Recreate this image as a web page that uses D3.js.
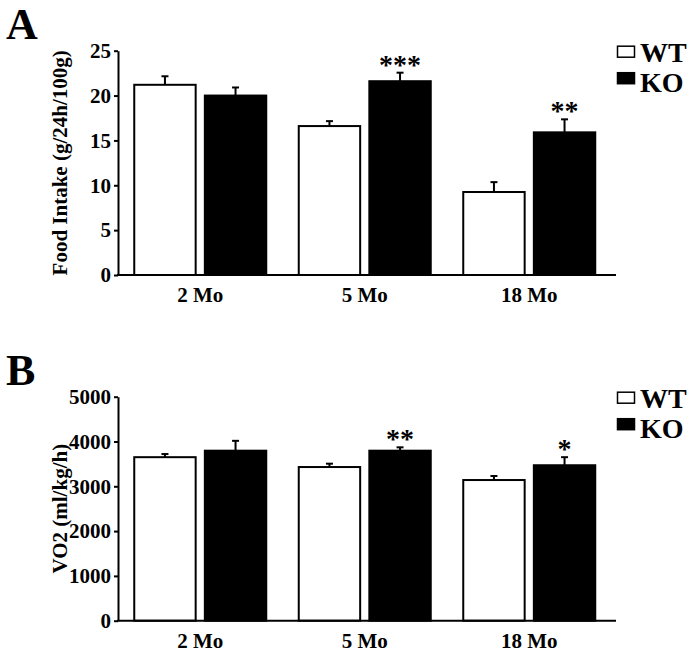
<!DOCTYPE html>
<html>
<head>
<meta charset="utf-8">
<script src="https://cdn.jsdelivr.net/npm/d3@7"></script>
<style>
  html, body { margin: 0; padding: 0; background: #fff; }
  svg { display: block; }
  text { font-family: "Liberation Serif", "Times New Roman", serif; font-weight: bold; fill: #000; }
</style>
</head>
<body>
<svg id="chart" width="696" height="653"></svg>
<script>
// ---- data ----
const categories = ["2 Mo", "5 Mo", "18 Mo"];
const seriesNames = ["WT", "KO"];

const foodWT = [21.2, 16.6, 9.25];
const foodWTErr = [0.95, 0.55, 1.1];
const foodKO = [20.0, 21.6, 15.9];
const foodKOErr = [0.9, 0.95, 1.45];
const foodStars = ["", "***", "**"];
const foodTicks = [0, 5, 10, 15, 20, 25];

const vo2WT = [3650, 3430, 3140];
const vo2WTErr = [70, 75, 90];
const vo2KO = [3795, 3795, 3470];
const vo2KOErr = [220, 75, 180];
const vo2Stars = ["", "**", "*"];
const vo2Ticks = [0, 1000, 2000, 3000, 4000, 5000];

const panels = [
  { letter: "A", title: "Food Intake (g/24h/100g)", wt: foodWT, wtErr: foodWTErr, ko: foodKO, koErr: foodKOErr,
    stars: foodStars, ticks: foodTicks, max: 25, top: 50.7, bottom: 275, letterY: 39 },
  { letter: "B", title: "VO2 (ml/kg/h)", wt: vo2WT, wtErr: vo2WTErr, ko: vo2KO, koErr: vo2KOErr,
    stars: vo2Stars, ticks: vo2Ticks, max: 5000, top: 396.7, bottom: 620.7, letterY: 385 }
];

const svg = d3.select("#chart");
const axisX = 118, axisEnd = 616;

const x0 = d3.scaleBand().domain(categories).range([118, 611.5]).paddingInner(0).paddingOuter(0);
const x1 = d3.scaleBand().domain(seriesNames).range([0, 132]).paddingInner(0.13).paddingOuter(0);
const groupOffset = (x0.bandwidth() - 132) / 2;
const fills = { WT: "#fff", KO: "#000" };

panels.forEach(p => {
  const g = svg.append("g");
  const y = d3.scaleLinear().domain([0, p.max]).range([p.bottom, p.top]);

  // panel letter
  g.append("text").attr("x", 6).attr("y", p.letterY).attr("font-size", 44).text(p.letter);

  const rows = categories.map((c, i) => [
    { cat: c, s: "WT", v: p.wt[i], e: p.wtErr[i], star: "" },
    { cat: c, s: "KO", v: p.ko[i], e: p.koErr[i], star: p.stars[i] }
  ]).flat();

  const bx = d => x0(d.cat) + groupOffset + x1(d.s);

  // error bars (upper only)
  const eb = g.append("g").attr("stroke", "#000").attr("stroke-width", 2);
  rows.forEach(d => {
    const cx = bx(d) + x1.bandwidth() / 2;
    eb.append("line").attr("x1", cx).attr("x2", cx).attr("y1", y(d.v)).attr("y2", y(d.v + d.e));
    eb.append("line").attr("x1", cx - 3.5).attr("x2", cx + 3.5).attr("y1", y(d.v + d.e)).attr("y2", y(d.v + d.e));
  });

  // bars
  g.append("g").selectAll("rect").data(rows).join("rect")
    .attr("x", d => bx(d))
    .attr("y", d => y(d.v))
    .attr("width", x1.bandwidth())
    .attr("height", d => y(0) - y(d.v))
    .attr("fill", d => fills[d.s])
    .attr("stroke", "#000")
    .attr("stroke-width", 2);

  // significance stars
  g.append("g").selectAll("text").data(rows.filter(d => d.star)).join("text")
    .attr("x", d => bx(d) + x1.bandwidth() / 2)
    .attr("y", d => y(d.v + d.e) + 1)
    .attr("text-anchor", "middle")
    .attr("font-size", 28)
    .attr("font-weight", "normal")
    .text(d => d.star);

  // y axis
  const ya = g.append("g").attr("transform", `translate(${axisX},0)`)
    .call(d3.axisLeft(y).tickValues(p.ticks).tickFormat(d3.format("d")).tickSize(4).tickPadding(3).tickSizeOuter(0));
  ya.select(".domain").attr("stroke-width", 2);
  ya.selectAll(".tick line").attr("stroke-width", 2);
  ya.selectAll(".tick text").attr("font-size", 21).attr("font-family", null);

  // x axis
  const xa = g.append("g").attr("transform", `translate(0,${p.bottom})`)
    .call(d3.axisBottom(x0).tickSize(0).tickPadding(12));
  xa.select(".domain").remove();
  xa.selectAll(".tick text").attr("font-size", 21).attr("font-family", null).attr("dy", "0.71em");
  g.append("line").attr("x1", axisX - 1).attr("x2", axisEnd).attr("y1", p.bottom).attr("y2", p.bottom)
    .attr("stroke", "#000").attr("stroke-width", 2);

  // y axis title
  g.append("text")
    .attr("transform", `translate(67,${(p.top + p.bottom) / 2}) rotate(-90)`)
    .attr("text-anchor", "middle")
    .attr("font-size", 21)
    .text(p.title);

  // legend
  const lg = g.append("g");
  seriesNames.forEach((s, i) => {
    lg.append("rect").attr("x", 617.5).attr("y", p.top - 4.5 + i * 26.5).attr("width", 17).attr("height", 11)
      .attr("fill", fills[s]).attr("stroke", "#000").attr("stroke-width", 1.5);
    lg.append("text").attr("x", 640).attr("y", p.top + 11 + i * 30.5).attr("font-size", 28).text(s);
  });
});
</script>
</body>
</html>
